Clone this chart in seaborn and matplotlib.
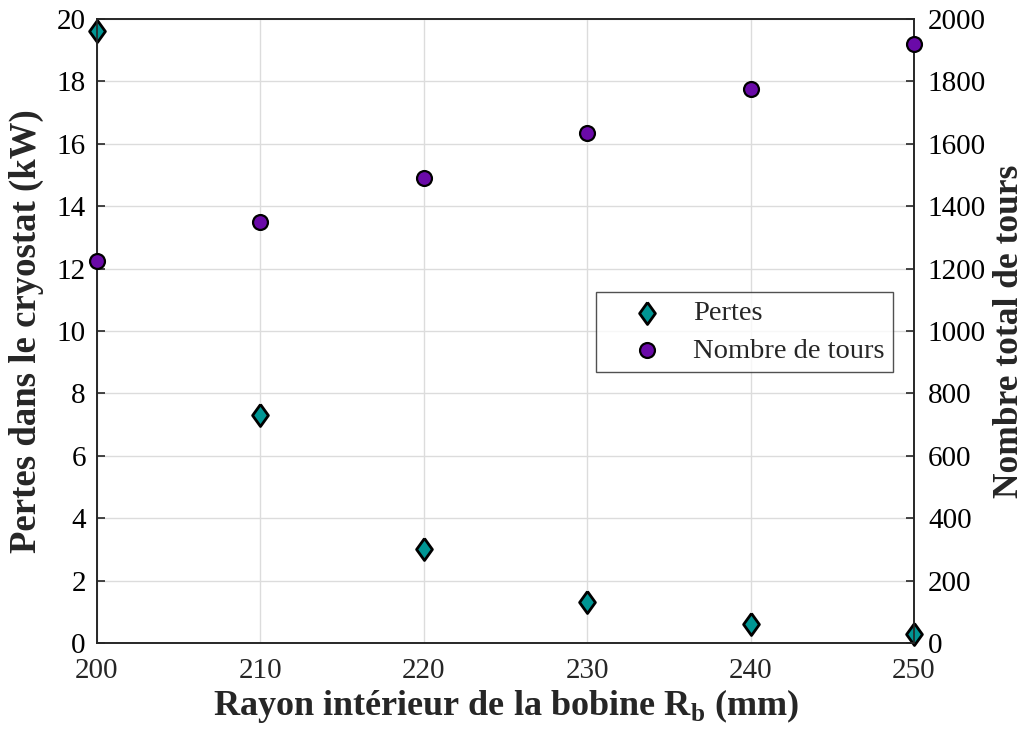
import matplotlib
matplotlib.use("Agg")
import matplotlib.pyplot as plt
import seaborn as sns
import pandas as pd

rayon = [200, 210, 220, 230, 240, 250]
pertes = [19.6, 7.3, 3.0, 1.3, 0.6, 0.3]
tours = [1224, 1349, 1490, 1635, 1776, 1920]

sns.set_theme(style="white")
plt.rcParams['font.family'] = ['Liberation Serif', 'DejaVu Serif']
plt.rcParams['mathtext.fontset'] = 'custom'
plt.rcParams['mathtext.rm'] = 'Liberation Serif'
plt.rcParams['mathtext.bf'] = 'Liberation Serif:bold'

df = pd.DataFrame({"rayon": rayon, "pertes": pertes, "tours": tours})

fig = plt.figure(figsize=(10.25, 7.42), dpi=100)
ax = fig.add_axes([0.0946, 0.1334, 0.7971, 0.8410])
ax2 = ax.twinx()

teal = "#009694"
purple = "#6a0aa8"
diamond = [(0, 1), (0.72, 0), (0, -1), (-0.72, 0), (0, 1)]

sns.scatterplot(data=df, x="rayon", y="pertes", ax=ax, marker=diamond, s=250,
                color=teal, edgecolor="black", linewidth=2, zorder=5, clip_on=False,
                label="Pertes", legend=False)
sns.scatterplot(data=df, x="rayon", y="tours", ax=ax2, marker="o", s=115,
                color=purple, edgecolor="black", linewidth=1.6, zorder=5, clip_on=False,
                label="Nombre de tours", legend=False)

ax.set_xlim(200, 250)
ax.set_ylim(0, 20)
ax2.set_ylim(0, 2000)
ax.set_xticks(range(200, 251, 10))
ax.set_yticks(range(0, 21, 2))
ax2.set_yticks(range(0, 2001, 200))

ax.grid(True, color="#dcdcdc", linewidth=1)
ax.set_axisbelow(True)

for a in (ax, ax2):
    a.tick_params(direction="in", length=6, width=1.2, labelsize=21, colors="#262626", pad=8)
    for s in a.spines.values():
        s.set_color("#262626")
        s.set_linewidth(1.2)
ax.tick_params(axis="y", labelcolor="black")
ax2.tick_params(axis="y", labelcolor="black", pad=10)
ax.tick_params(axis="x", pad=11)

ax.set_xlabel(r"Rayon intérieur de la bobine R$_\mathbf{b}$ (mm)", fontsize=26, fontweight="bold", labelpad=2)
ax.set_ylabel("Pertes dans le cryostat (kW)", fontsize=26.5, fontweight="bold", labelpad=9)
ax2.set_ylabel("Nombre total de tours", fontsize=25.5, fontweight="bold", labelpad=5)

h1, l1 = ax.get_legend_handles_labels()
h2, l2 = ax2.get_legend_handles_labels()
leg = ax2.legend(h1 + h2, l1 + l2, loc="upper right", bbox_to_anchor=(0.974, 0.5625),
                 fontsize=20.5, frameon=True, fancybox=False, edgecolor="#262626",
                 borderpad=0.3, handletextpad=0.1, borderaxespad=0, labelspacing=0.4,
                 handlelength=3.0, markerscale=1.0)
leg.get_frame().set_linewidth(1.0)

fig.savefig("out.png", dpi=100)
